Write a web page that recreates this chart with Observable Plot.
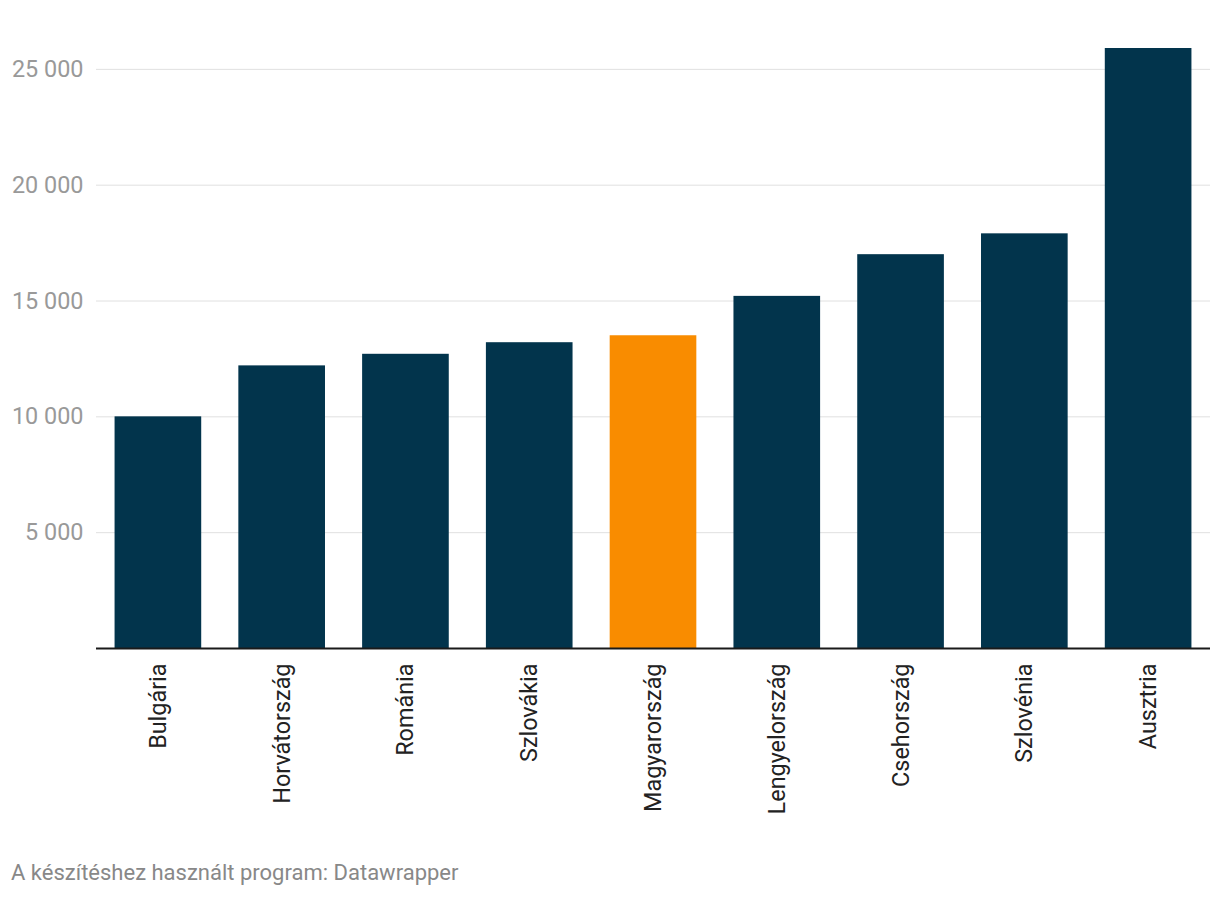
<!DOCTYPE html>
<html>
<head>
<meta charset="utf-8">
<script src="https://cdn.jsdelivr.net/npm/d3@7"></script>
<script src="https://cdn.jsdelivr.net/npm/@observablehq/plot@0.6"></script>
<style>
  body { margin: 0; background: #fff; font-family: Roboto, sans-serif; }
  #chart { width: 1220px; }
  .caption { font-family: Roboto, sans-serif; font-size: 22px; color: #888; margin: 0 0 0 11px; position: absolute; top: 860px; }
</style>
</head>
<body>
<div id="chart"></div>
<div class="caption">A készítéshez használt program: Datawrapper</div>
<script>
const countries = ["Bulgária","Horvátország","Románia","Szlovákia","Magyarország","Lengyelország","Csehország","Szlovénia","Ausztria"];
const values = [10000, 12200, 12700, 13200, 13500, 15200, 17000, 17900, 25900];
const highlight = "Magyarország";
const yTicks = [5000, 10000, 15000, 20000, 25000];

const data = countries.map((c, i) => ({country: c, value: values[i]}));
const fmtSp = v => d3.format(",")(v).replace(/,/g, " ");

const plot = Plot.plot({
  width: 1220,
  height: 850,
  marginLeft: 96,
  marginRight: 10,
  marginTop: 48,
  marginBottom: 202,
  style: {fontFamily: "Roboto, sans-serif", background: "#fff"},
  x: {domain: countries, paddingInner: 0.3, paddingOuter: 0.15, round: false, axis: null},
  y: {domain: [0, 25900], axis: null},
  marks: [
    Plot.gridY(yTicks, {stroke: "#e0e0e0", strokeOpacity: 1, strokeWidth: 1}),
    Plot.axisY(yTicks, {tickSize: 0, tickPadding: 13, tickFormat: fmtSp, fontSize: 23.4, fill: "#999", label: null}),
    Plot.barY(data, {x: "country", y: "value", fill: d => d.country === highlight ? "#f98c00" : "#02344c"}),
    Plot.ruleY([0], {stroke: "#1a1a1a", strokeWidth: 2}),
    Plot.axisX({tickSize: 0, tickPadding: 15, tickRotate: -90, fontSize: 23.4, fill: "#222", label: null})
  ]
});
document.getElementById("chart").appendChild(plot);
</script>
</body>
</html>
